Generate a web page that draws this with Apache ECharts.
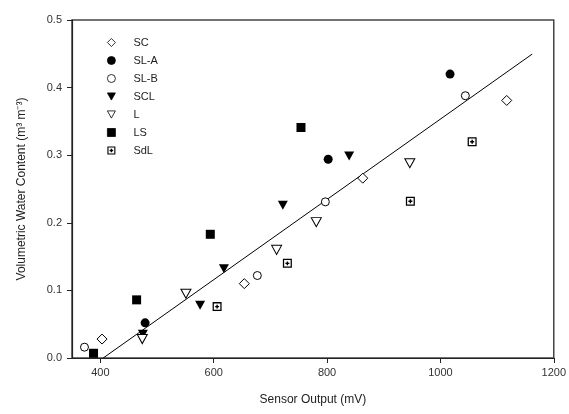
<!DOCTYPE html>
<html>
<head>
<meta charset="utf-8">
<script src="https://cdn.jsdelivr.net/npm/echarts@6/dist/echarts.min.js"></script>
<style>
html,body{margin:0;padding:0;background:#fff;}
#chart{width:569px;height:414px;}
</style>
</head>
<body>
<div id="chart"></div>
<script>
// ---- data ----
const scX = [403, 654, 863, 1117];
const scY = [0.028, 0.110, 0.266, 0.381];
const slaX = [479, 802, 1017];
const slaY = [0.052, 0.294, 0.420];
const slbX = [372, 677, 797, 1044];
const slbY = [0.016, 0.122, 0.231, 0.388];
const sclX = [475, 576, 618, 722, 839];
const sclY = [0.035, 0.078, 0.132, 0.226, 0.299];
const lX = [474, 551, 711, 781, 946];
const lY = [0.028, 0.095, 0.160, 0.201, 0.288];
const lsX = [388, 464, 594, 754];
const lsY = [0.007, 0.086, 0.183, 0.341];
const sdlX = [606, 730, 947, 1056];
const sdlY = [0.076, 0.140, 0.232, 0.320];
// regression line: y = slope * x + intercept, drawn between these x values
const fitSlope = 0.000594;
const fitIntercept = -0.2406;
const fitRange = [405, 1162];
const xTicks = [400, 600, 800, 1000, 1200];
const yTicks = [0.0, 0.1, 0.2, 0.3, 0.4, 0.5];

function pairs(xs, ys){ return xs.map((x,i)=>[x, ys[i]]); }

const sdlPath = 'path://M0,0H10V10H0Z M1.4,1.4V8.6H8.6V1.4Z M4.2,2.8H5.8V4.2H7.2V5.8H5.8V7.2H4.2V5.8H2.8V4.2H4.2Z';
const triDown = 'path://M0,0L10,0L5,9Z';

const black = '#000';
const base = {type:'scatter', z:3};
function st(fill, bw){ return {color:fill, borderColor:black, borderWidth:bw, opacity:1}; }
const series = [
  Object.assign({}, base, {name:'SC', data:pairs(scX,scY), symbol:'diamond', symbolSize:[10,10], itemStyle:st('#fff',1)}),
  Object.assign({}, base, {name:'SL-A', data:pairs(slaX,slaY), symbol:'circle', symbolSize:9, itemStyle:st(black,0)}),
  Object.assign({}, base, {name:'SL-B', data:pairs(slbX,slbY), symbol:'circle', symbolSize:8, itemStyle:st('#fff',1)}),
  Object.assign({}, base, {name:'SCL', data:pairs(sclX,sclY), symbol:triDown, symbolSize:[10,9], itemStyle:st(black,0)}),
  Object.assign({}, base, {name:'L', data:pairs(lX,lY), symbol:triDown, symbolSize:[10,9], itemStyle:st('#fff',1)}),
  Object.assign({}, base, {name:'LS', data:pairs(lsX,lsY), symbol:'rect', symbolSize:9, itemStyle:st(black,0)}),
  Object.assign({}, base, {name:'SdL', data:pairs(sdlX,sdlY), symbol:sdlPath, symbolSize:9, itemStyle:{color:black, opacity:1}}),
  {type:'line', name:'fit', data:fitRange.map(x=>[x, fitSlope*x+fitIntercept]),
   showSymbol:false, symbol:'none', lineStyle:{color:black, width:1}, z:2, silent:true}
];

const chart = echarts.init(document.getElementById('chart'), null, {renderer:'canvas'});
const font = 'Liberation Sans, Arial, Helvetica, sans-serif';
chart.setOption({
  animation:false,
  backgroundColor:'#fff',
  textStyle:{fontFamily:font},
  grid:{left:72, right:15, top:20, bottom:56, show:true, borderColor:'#444', borderWidth:1.5, backgroundColor:'transparent'},
  legend:{
    data:['SC','SL-A','SL-B','SCL','L','LS','SdL'],
    orient:'vertical', left:107, top:37, padding:0, itemWidth:8, itemHeight:8, itemGap:7,
    itemStyle:{borderWidth:0.8},
    textStyle:{fontSize:11, color:'#222', fontFamily:font, padding:[0,0,0,13]},
    selectedMode:false
  },
  xAxis:{
    type:'value', min:350, max:1200,
    name:'Sensor Output (mV)', nameLocation:'middle', nameGap:36,
    nameTextStyle:{fontSize:12, color:'#222', fontFamily:font},
    axisLine:{show:true, lineStyle:{color:'#222', width:1.2}},
    axisTick:{show:true, length:5, inside:false, customValues:xTicks, lineStyle:{color:'#222'}},
    axisLabel:{customValues:xTicks, fontSize:11, color:'#333', margin:9, fontFamily:font,
      formatter:v=>String(Math.round(v))},
    splitLine:{show:false}
  },
  yAxis:{
    type:'value', min:0, max:0.5, interval:0.1,
    name:'Volumetric Water Content (m\u00B3 m\u207B\u00B3)', nameLocation:'middle', nameGap:44,
    nameTextStyle:{fontSize:12, color:'#222', fontFamily:font},
    axisLine:{show:true, lineStyle:{color:'#222', width:1.2}},
    axisTick:{show:true, length:5, inside:false, lineStyle:{color:'#222'}},
    axisLabel:{fontSize:11, color:'#333', margin:10, fontFamily:font,
      formatter:v=>{ const t = yTicks.find(k=>Math.abs(k-v)<1e-9); return (t!==undefined?t:v).toFixed(1); }},
    splitLine:{show:false}
  },
  series:series
});
</script>
</body>
</html>
